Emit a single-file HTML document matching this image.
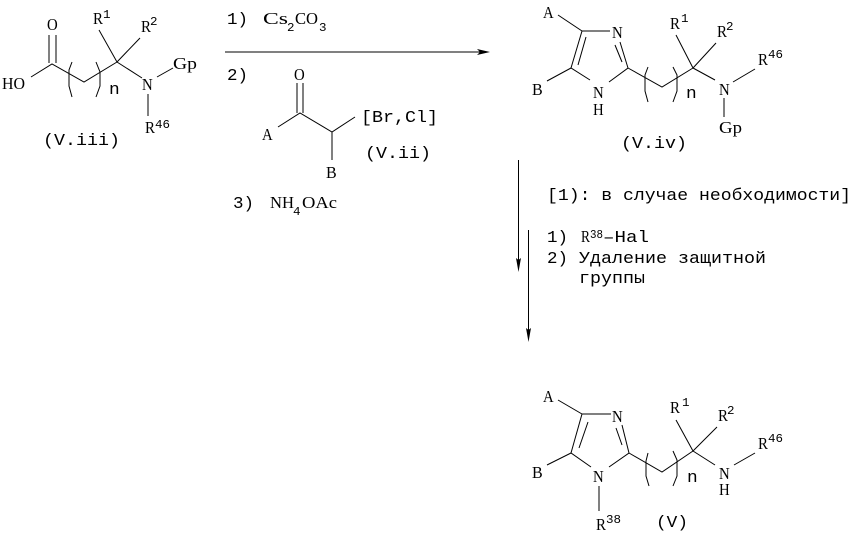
<!DOCTYPE html>
<html><head><meta charset="utf-8"><style>
html,body{margin:0;padding:0;background:#fff}
svg{display:block}
text{font-family:"Liberation Mono","DejaVu Sans Mono",monospace;font-size:17px;fill:#000;white-space:pre}
.c{font-family:"Liberation Serif",serif;font-size:16.5px}
.s{font-size:12px}
line,polyline{stroke:#000;stroke-width:1;fill:none}
</style></head><body>
<svg xmlns="http://www.w3.org/2000/svg" width="855" height="536" viewBox="0 0 855 536">
<!-- V.iii -->
<line x1="49" y1="35" x2="49" y2="63"/><line x1="56" y1="35" x2="56" y2="63"/>
<polyline points="31,77 52,64 84,82 117,62"/>
<polyline points="72,62 69,70 69,86 72,97"/><polyline points="96,62 100,72 100,86 96,97"/>
<line x1="99" y1="30" x2="117" y2="62"/><line x1="140" y1="38" x2="117" y2="62"/>
<line x1="117" y1="62" x2="142" y2="78"/><line x1="157" y1="77" x2="173" y2="68"/><line x1="148" y1="94" x2="148" y2="116"/>
<text class="c" x="2" y="89" textLength="23" lengthAdjust="spacingAndGlyphs">HO</text>
<text class="c" x="47" y="30" textLength="10.7" lengthAdjust="spacingAndGlyphs">O</text>
<text class="c" x="93" y="24" textLength="10" lengthAdjust="spacingAndGlyphs">R</text><text class="s" x="103" y="18" textLength="7.5" lengthAdjust="spacingAndGlyphs">1</text>
<text class="c" x="141" y="32" textLength="10" lengthAdjust="spacingAndGlyphs">R</text><text class="s" x="150" y="25" textLength="7.5" lengthAdjust="spacingAndGlyphs">2</text>
<text x="109" y="94" textLength="10.7" lengthAdjust="spacingAndGlyphs">n</text>
<text class="c" x="142" y="90" textLength="10.7" lengthAdjust="spacingAndGlyphs">N</text>
<text class="c" x="173" y="69" textLength="24" lengthAdjust="spacingAndGlyphs">Gp</text>
<text class="c" x="145" y="133" textLength="10" lengthAdjust="spacingAndGlyphs">R</text><text class="s" x="155" y="128" textLength="15" lengthAdjust="spacingAndGlyphs">46</text>
<text x="43" y="145" textLength="77" lengthAdjust="spacingAndGlyphs">(V.iii)</text>
<!-- reaction conditions -->
<line x1="225" y1="52" x2="480" y2="52"/>
<polygon points="477,49 490,52 477,55 480,52" fill="#000"/>
<text x="227" y="24" textLength="21" lengthAdjust="spacingAndGlyphs">1)</text>
<text class="c" x="263" y="24" textLength="25" lengthAdjust="spacingAndGlyphs">Cs</text><text class="s" x="287" y="31" textLength="7.5" lengthAdjust="spacingAndGlyphs">2</text>
<text class="c" x="295" y="24" textLength="23" lengthAdjust="spacingAndGlyphs">CO</text><text class="s" x="319" y="31" textLength="7.5" lengthAdjust="spacingAndGlyphs">3</text>
<text x="227" y="80" textLength="21" lengthAdjust="spacingAndGlyphs">2)</text>
<text class="c" x="294" y="80" textLength="10.7" lengthAdjust="spacingAndGlyphs">O</text>
<line x1="297" y1="83" x2="297" y2="113"/><line x1="303" y1="83" x2="303" y2="113"/>
<polyline points="278,127 300,113 332,132 355,117"/><line x1="332" y1="132" x2="332" y2="160"/>
<text class="c" x="262" y="140" textLength="10.7" lengthAdjust="spacingAndGlyphs">A</text>
<text x="361" y="122" textLength="77" lengthAdjust="spacingAndGlyphs">[Br,Cl]</text>
<text x="365" y="158" textLength="66" lengthAdjust="spacingAndGlyphs">(V.ii)</text>
<text class="c" x="326" y="178" textLength="10.7" lengthAdjust="spacingAndGlyphs">B</text>
<text x="233" y="208" textLength="21" lengthAdjust="spacingAndGlyphs">3)</text>
<text class="c" x="270" y="208" textLength="24" lengthAdjust="spacingAndGlyphs">NH</text><text class="s" x="293" y="215" textLength="7.5" lengthAdjust="spacingAndGlyphs">4</text>
<text class="c" x="302" y="208" textLength="35" lengthAdjust="spacingAndGlyphs">OAc</text>
<!-- V.iv -->
<line x1="558" y1="15" x2="582" y2="31"/><line x1="582" y1="31" x2="610" y2="31"/>
<line x1="582" y1="31" x2="571" y2="68"/><line x1="586" y1="37" x2="578" y2="65"/>
<polyline points="547,81 571,68 590,80"/><polyline points="609,82 628,68 620,42"/><line x1="622" y1="62" x2="615" y2="45"/>
<polyline points="628,68 662,87 693,68"/>
<polyline points="648,67 645,75 645,91 648,102"/><polyline points="673,67 677,75 677,91 673,102"/>
<line x1="676" y1="35" x2="693" y2="68"/><line x1="716" y1="43" x2="693" y2="68"/><line x1="693" y1="68" x2="715" y2="80"/>
<line x1="733" y1="82" x2="755" y2="69"/><line x1="724" y1="98" x2="724" y2="117"/>
<text class="c" x="543" y="18" textLength="10.7" lengthAdjust="spacingAndGlyphs">A</text>
<text class="c" x="612" y="38" textLength="10.7" lengthAdjust="spacingAndGlyphs">N</text>
<text class="c" x="593" y="98" textLength="10.7" lengthAdjust="spacingAndGlyphs">N</text>
<text class="c" x="593" y="115" textLength="10.7" lengthAdjust="spacingAndGlyphs">H</text>
<text class="c" x="532" y="95" textLength="10.7" lengthAdjust="spacingAndGlyphs">B</text>
<text x="686" y="98" textLength="10.7" lengthAdjust="spacingAndGlyphs">n</text>
<text class="c" x="670" y="29" textLength="10" lengthAdjust="spacingAndGlyphs">R</text><text class="s" x="681" y="22" textLength="7.5" lengthAdjust="spacingAndGlyphs">1</text>
<text class="c" x="717" y="37" textLength="10" lengthAdjust="spacingAndGlyphs">R</text><text class="s" x="726" y="30" textLength="7.5" lengthAdjust="spacingAndGlyphs">2</text>
<text class="c" x="719" y="95" textLength="10.7" lengthAdjust="spacingAndGlyphs">N</text>
<text class="c" x="758" y="65" textLength="10" lengthAdjust="spacingAndGlyphs">R</text><text class="s" x="768" y="58" textLength="15" lengthAdjust="spacingAndGlyphs">46</text>
<text class="c" x="719" y="133" textLength="23" lengthAdjust="spacingAndGlyphs">Gp</text>
<text x="621" y="148" textLength="66" lengthAdjust="spacingAndGlyphs">(V.iv)</text>
<!-- vertical arrows -->
<line x1="518.5" y1="160" x2="518.5" y2="262"/>
<polygon points="516,258 518.5,272 521,258 518.5,260" fill="#000"/>
<line x1="528.5" y1="230" x2="528.5" y2="332"/>
<polygon points="526,328 528.5,342 531,328 528.5,330" fill="#000"/>
<text x="547" y="200" textLength="304" lengthAdjust="spacingAndGlyphs">[1): в случае необходимости]</text>
<text x="547" y="242" textLength="21" lengthAdjust="spacingAndGlyphs">1)</text>
<text class="c" x="581" y="242" textLength="9" lengthAdjust="spacingAndGlyphs">R</text><text class="s" x="590" y="238" textLength="13" lengthAdjust="spacingAndGlyphs">38</text>
<text x="603" y="242" textLength="46" lengthAdjust="spacingAndGlyphs">–Hal</text>
<text x="547" y="263" textLength="21" lengthAdjust="spacingAndGlyphs">2)</text>
<text x="579" y="263" textLength="187" lengthAdjust="spacingAndGlyphs">Удаление защитной</text>
<text x="579" y="283" textLength="66" lengthAdjust="spacingAndGlyphs">группы</text>
<!-- V -->
<line x1="558" y1="400" x2="582" y2="414"/><line x1="582" y1="414" x2="611" y2="414"/>
<line x1="582" y1="414" x2="571" y2="453"/><line x1="588" y1="422" x2="579" y2="448"/>
<polyline points="547,465 571,453 591,467"/><polyline points="609,467 629,453 622,425"/><line x1="622" y1="445" x2="616" y2="428"/>
<line x1="599" y1="486" x2="599" y2="511"/>
<polyline points="629,453 662,472 693,451"/>
<polyline points="648,453 646,461 646,476 649,486"/><polyline points="673,451 677,460 677,476 673,486"/>
<line x1="676" y1="420" x2="693" y2="451"/><line x1="717" y1="427" x2="693" y2="451"/><line x1="693" y1="451" x2="715" y2="465"/>
<line x1="734" y1="465" x2="755" y2="453"/>
<text class="c" x="543" y="402" textLength="10.7" lengthAdjust="spacingAndGlyphs">A</text>
<text class="c" x="612" y="422" textLength="10.7" lengthAdjust="spacingAndGlyphs">N</text>
<text class="c" x="593" y="482" textLength="10.7" lengthAdjust="spacingAndGlyphs">N</text>
<text class="c" x="532" y="478" textLength="10.7" lengthAdjust="spacingAndGlyphs">B</text>
<text class="c" x="596" y="530" textLength="10" lengthAdjust="spacingAndGlyphs">R</text><text class="s" x="606" y="523" textLength="15" lengthAdjust="spacingAndGlyphs">38</text>
<text x="656" y="527" textLength="32" lengthAdjust="spacingAndGlyphs">(V)</text>
<text x="687" y="482" textLength="10.7" lengthAdjust="spacingAndGlyphs">n</text>
<text class="c" x="670" y="413" textLength="10" lengthAdjust="spacingAndGlyphs">R</text><text class="s" x="682" y="406" textLength="7.5" lengthAdjust="spacingAndGlyphs">1</text>
<text class="c" x="718" y="421" textLength="10" lengthAdjust="spacingAndGlyphs">R</text><text class="s" x="727" y="414" textLength="7.5" lengthAdjust="spacingAndGlyphs">2</text>
<text class="c" x="719" y="479" textLength="10.7" lengthAdjust="spacingAndGlyphs">N</text>
<text class="c" x="719" y="495" textLength="10.7" lengthAdjust="spacingAndGlyphs">H</text>
<text class="c" x="758" y="449" textLength="10" lengthAdjust="spacingAndGlyphs">R</text><text class="s" x="768" y="442" textLength="15" lengthAdjust="spacingAndGlyphs">46</text>
</svg>
</body></html>
